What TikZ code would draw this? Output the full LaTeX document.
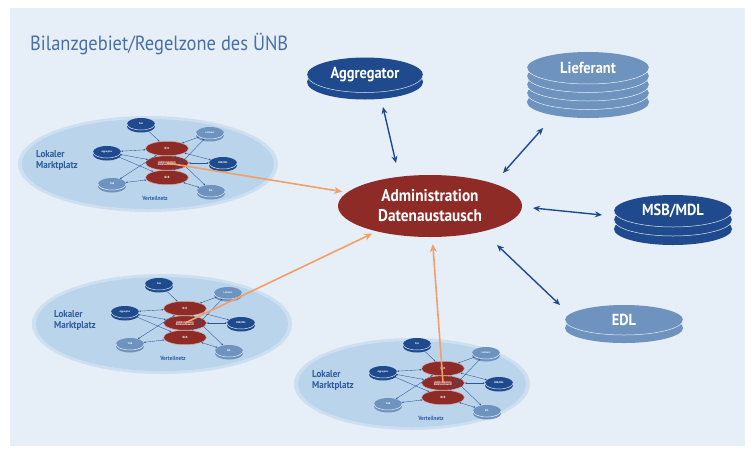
\documentclass[tikz,border=0pt]{standalone}
\usepackage{fontspec}
\setmainfont{PT Sans}[FakeStretch=0.9]
\usetikzlibrary{shapes.geometric,arrows.meta}
\definecolor{bgc}{HTML}{E6EEF7}
\definecolor{dblue}{HTML}{1F4B8E}
\definecolor{lblue}{HTML}{6E93BF}
\definecolor{dred}{HTML}{8E2B26}
\definecolor{orng}{HTML}{F2A068}
\definecolor{mpfill}{HTML}{B9D4EB}
\definecolor{titlec}{HTML}{4A6FA5}
\definecolor{lineb}{HTML}{2C5595}
\definecolor{mptext}{HTML}{2F5D9A}
\tikzset{
  diskbox/.style={ellipse, inner sep=0pt, text=white, font=\bfseries},
  redbox/.style={ellipse, inner sep=0pt, fill=dred, draw=white!60!dred, line width=0.5pt, text=white, font=\bfseries\fontsize{3}{3}\selectfont, align=center},
  bluearr/.style={draw=dblue, line width=1.4pt, {Stealth[length=7pt,width=6pt]}-{Stealth[length=7pt,width=6pt]}},
  orangearr/.style={draw=orng, line width=1.6pt, -{Stealth[length=8pt,width=7pt]}},
  innerarr/.style={draw=lineb, line width=0.35pt, {Stealth[length=2pt,width=1.6pt]}-{Stealth[length=2pt,width=1.6pt]}},
  mplabel/.style={text=mptext, font=\bfseries\fontsize{10}{11}\selectfont, align=left, inner sep=0pt},
}
% #1 name, #2 x, #3 y, #4 rx, #5 ry, #6 extra layers, #7 spacing, #8 colour, #9 text + font
\newcommand\diskstack[9]{%
  \foreach \k in {#6,...,1}{\fill[#8] ({#2},{#3-\k*#7}) ellipse[x radius=#4, y radius=#5];}
  \node[diskbox, fill=#8, minimum width=2*#4 pt, minimum height=2*#5 pt] (#1) at (#2,#3) {#9};
  \foreach \k in {#6,...,1}{\draw[white!85!#8, line width=0.5pt] ({#2-#4},{#3-(\k-1)*#7}) arc[start angle=180, end angle=360, x radius=#4, y radius=#5];}
}
% #1 prefix, #2 x, #3 y, #4 ellipse x offset, #5 rx, #6 ry
\newcommand\mplatz[6]{%
  \begin{scope}[shift={(#2,#3)}]
    \shade[inner color=mpfill, outer color=mpfill!55!bgc] (#4,-1) ellipse[x radius=#5, y radius=#6];
    \fill[mpfill] (#4,-1) ellipse[x radius=#5-4, y radius=#6-3];
    \node[mplabel, anchor=west] (#1lab) at (-131,3) {Lokaler\\Marktplatz};
    \node[text=mptext, font=\bfseries\fontsize{6}{6}\selectfont] (#1vn) at (-12,-35) {Verteilnetz};
    \diskstack{#1pog}{-26}{39}{14}{6}{1}{2.5}{dblue}{\fontsize{2.5}{3}\selectfont PoG}
    \diskstack{#1agg}{-60}{11}{14}{6}{1}{2.5}{dblue}{\fontsize{2.5}{3}\selectfont Aggregator}
    \diskstack{#1nnb}{-55}{-21}{14}{6}{1}{2.5}{lblue}{\fontsize{2.5}{3}\selectfont VNB}
    \diskstack{#1lief}{43}{30}{14}{6}{1}{2.5}{lblue}{\fontsize{2.5}{3}\selectfont Lieferant}
    \diskstack{#1msb}{56}{0}{14}{6}{1}{2.5}{dblue}{\fontsize{2.5}{3}\selectfont MSB/MDL}
    \diskstack{#1edl}{44}{-28}{14}{6}{1}{2.5}{lblue}{\fontsize{2.5}{3}\selectfont EDL}
    \node[redbox, minimum width=43pt, minimum height=14.5pt] (#1b2c) at (0,14.5) {B2C};
    \node[redbox, minimum width=43pt, minimum height=14.5pt] (#1b2b) at (0,-14.5) {B2B};
    \node[redbox, minimum width=43pt, minimum height=14.5pt] (#1adm) at (0,0) {Administration\\[-1pt]Datenaustausch};
    \draw[innerarr] (#1agg) -- (#1b2c);
    \draw[innerarr] (#1agg) -- (#1b2b);
    \draw[innerarr] (#1agg) -- (#1adm);
    \draw[innerarr] (#1pog) -- (#1b2c);
    \draw[innerarr] (#1nnb) -- (#1b2c);
    \draw[innerarr] (#1nnb) -- (#1b2b);
    \draw[innerarr] (#1lief) -- (#1b2c);
    \draw[innerarr] (#1lief) -- (#1b2b);
    \draw[innerarr] (#1msb) -- (#1adm);
    \draw[innerarr] (#1msb) -- (#1b2c);
    \draw[innerarr] (#1edl) -- (#1b2c);
    \draw[innerarr] (#1edl) -- (#1b2b);
  \end{scope}
}
\begin{document}
\begin{tikzpicture}[x=1pt,y=1pt]
\useasboundingbox (0,0) rectangle (752,-453);
\fill[white] (0,0) rectangle (752,-453);
\fill[bgc] (10,-8) rectangle (745,-446);
\node[anchor=base west, text=titlec, font=\fontsize{20.5}{22}\selectfont, inner sep=0pt] (title) at (30,-50) {Bilanzgebiet/Regelzone des ÜNB};

\mplatz{ma}{167}{-163}{-19}{130}{48}
\mplatz{mb}{185}{-323}{-23}{130}{50}
\mplatz{mc}{443}{-383}{-31}{118}{46}

\node[ellipse, fill=dred, minimum width=184pt, minimum height=62pt, inner sep=0pt, text=white, font=\bfseries\fontsize{17}{20}\selectfont, align=center] (adm) at (430,-206) {Administration\\Datenaustausch};

\diskstack{agg}{365}{-75}{58}{17.5}{1}{7}{dblue}{\fontsize{16}{18}\selectfont Aggregator}
\diskstack{lief}{588}{-68}{61}{16}{4}{8.5}{lblue}{\fontsize{16}{18}\selectfont Lieferant}
\diskstack{msb}{673}{-211}{59}{16}{2}{9}{dblue}{\fontsize{16}{18}\selectfont MSB/MDL}
\diskstack{edl}{624}{-320}{59}{15}{1}{8}{lblue}{\fontsize{16}{18}\selectfont EDL}

\draw[bluearr] ([shift={(18,-32)}]agg.center) -- ([shift={(-34,43)}]adm.center);
\draw[bluearr] ([shift={(-45,-60)}]lief.center) -- ([shift={(73,33)}]adm.center);
\draw[bluearr] ([shift={(103,-2)}]adm.center) -- ([shift={(-71,-4)}]msb.center);
\draw[bluearr] ([shift={(67,-39)}]adm.center) -- ([shift={(-64,15)}]edl.center);

\draw[orangearr, shorten >=5pt] (maadm.center) -- (adm);
\draw[orangearr, shorten >=5pt] (mbadm.center) -- (adm);
\draw[orangearr, shorten >=7pt] (mcadm.center) -- (adm);
\end{tikzpicture}
\end{document}
